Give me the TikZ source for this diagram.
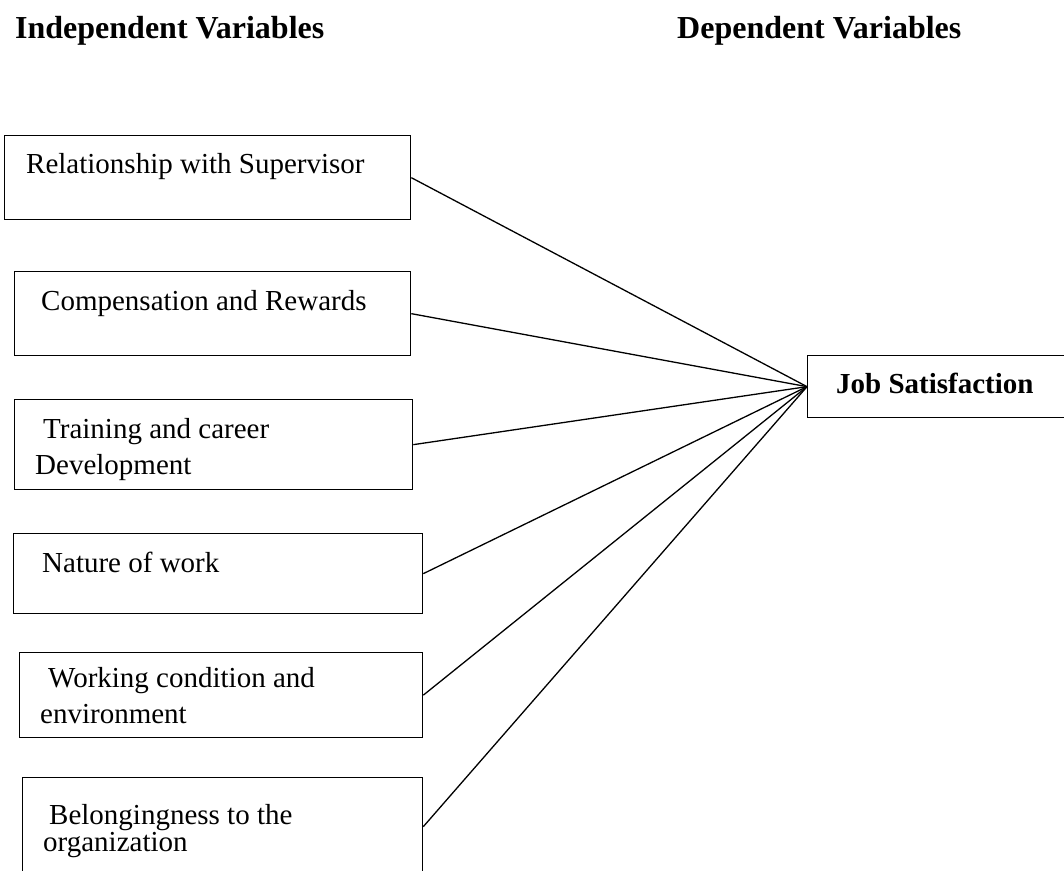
\documentclass[tikz,border=0pt]{standalone}
\usepackage{fontspec}
\setmainfont{Liberation Serif}
\begin{document}
\begin{tikzpicture}[x=1pt,y=-1pt,
  box/.style={draw=black,line width=1.3pt,rectangle,anchor=north west,inner sep=0pt},
  lbl/.style={anchor=base west,inner sep=0pt,font=\fontsize{29}{33}\selectfont},
  blbl/.style={anchor=base west,inner sep=0pt,font=\fontsize{29}{33}\selectfont\bfseries},
  head/.style={anchor=base west,inner sep=0pt,font=\fontsize{32}{36}\selectfont\bfseries},
  link/.style={draw=black,line width=1.3pt}]
\useasboundingbox (0,0) rectangle (1064,870);
% headers
\node[head] (h1) at (15,38) {Independent Variables};
\node[head] (h2) at (677,38) {Dependent Variables};
% boxes
\node[box,minimum width=406pt,minimum height=84pt] (b1) at (4,135) {};
\node[box,minimum width=396pt,minimum height=84pt] (b2) at (14,271) {};
\node[box,minimum width=398pt,minimum height=90pt] (b3) at (14,399) {};
\node[box,minimum width=409pt,minimum height=80pt] (b4) at (13,533) {};
\node[box,minimum width=403pt,minimum height=85pt] (b5) at (19,652) {};
\node[box,minimum width=400pt,minimum height=98pt] (b6) at (22,777) {};
\node[box,minimum width=300pt,minimum height=62pt] (job) at (807,355) {};
% texts
\node[lbl] (t1) at (26,173) {Relationship with Supervisor};
\node[lbl] (t2) at (41,310) {Compensation and Rewards};
\node[lbl] (t3a) at (43,438) {Training and career};
\node[lbl] (t3b) at (35,474) {Development};
\node[lbl] (t4) at (42,572) {Nature of work};
\node[lbl] (t5a) at (48,687) {Working condition and};
\node[lbl] (t5b) at (40,723) {environment};
\node[lbl] (t6a) at (49,824) {Belongingness to the};
\node[lbl] (t6b) at (43,851) {organization};
\node[blbl] (tj) at (836,393) {Job Satisfaction};
% connectors
\foreach \b in {b1,b2,b3,b4,b5,b6}
  \draw[link] (\b.east) -- (job.west);
\end{tikzpicture}
\end{document}
